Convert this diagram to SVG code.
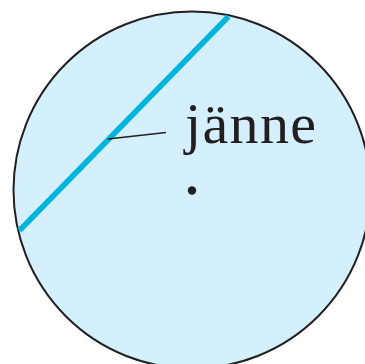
<svg xmlns="http://www.w3.org/2000/svg" width="365" height="364" viewBox="0 0 365 364">
<style>
.lbl{font-family:"Liberation Serif","Times New Roman",serif;font-size:58px;fill:#231f20}
</style>
<rect width="365" height="364" fill="#ffffff"/>
<g id="circle">
<circle cx="192" cy="190" r="178.5" fill="#d4effd" stroke="#231f20" stroke-width="2"/>
</g>
<g id="center">
<circle cx="192" cy="190.5" r="4.2" fill="#231f20"/>
</g>
<g id="chord">
<line x1="228.5" y1="16.5" x2="19.5" y2="230.5" stroke="#00b4dc" stroke-width="5.5"/>
</g>
<g id="connectors">
<line x1="108" y1="139" x2="166" y2="132.5" stroke="#231f20" stroke-width="1.3"/>
</g>
<g id="label">
<text class="lbl" x="185" y="143" textLength="131" lengthAdjust="spacing">jänne</text>
</g>
</svg>
